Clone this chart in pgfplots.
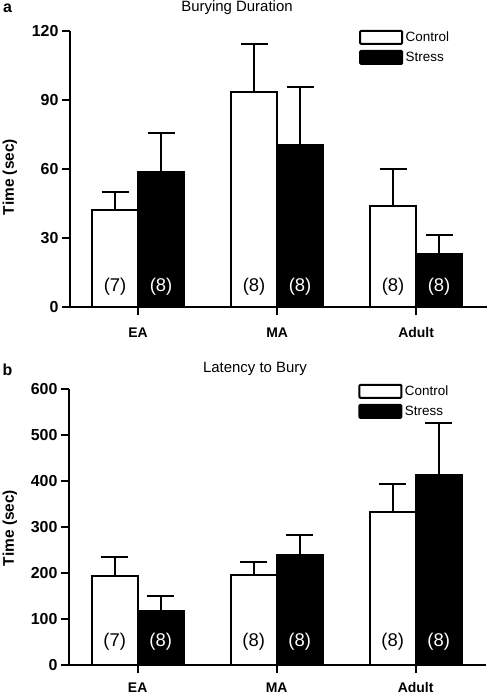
\documentclass[border=0pt]{standalone}
\usepackage{fontspec}
\setmainfont{Liberation Sans}
\usepackage{pgfplots}
\pgfplotsset{compat=1.18}

\pgfplotsset{
  prism/.style={
    scale only axis,
    ybar, bar width=46bp,
    axis x line*=bottom, axis y line*=left,
    axis line style={line width=2bp, black},
    tick style={line width=2bp, black},
    tick align=outside, major tick length=8bp,
    xtick={0,1,2}, xticklabels={EA,MA,Adult},
    /pgf/number format/assume math mode=true,
    yticklabel style={font=\fontsize{16}{16}\selectfont\bfseries},
    xticklabel style={font=\fontsize{14}{14}\selectfont\bfseries, anchor=base},
    ylabel={Time (sec)},
    ylabel style={font=\fontsize{15.5}{15.5}\selectfont\bfseries, anchor=center},
    legend style={draw=none, fill=none, anchor=north west, inner sep=0pt,
      font=\fontsize{13.5}{13.5}\selectfont, row sep=4bp,
      nodes={inner sep=2.5bp}},
    legend cell align=left,
  },
  barstyle/.style={
    bar width=46bp, draw=black, line width=2bp,
    error bars/y dir=plus, error bars/y explicit,
    error bars/error bar style={line width=2bp, black},
    error bars/error mark options={rotate=90, mark size=13.5bp, line width=2bp, black},
  },
  legbox/.style={legend image code/.code={\draw[line width=2bp, rounded corners=1bp, draw=black, ##1] (0bp,-6.5bp) rectangle (42bp,6.5bp);}},
}
\tikzset{nlab/.style={font=\fontsize{18.5}{18.5}\selectfont}}

\begin{document}
\begin{tikzpicture}
\useasboundingbox (0bp,0bp) rectangle (488bp,694bp);

% Panel a
\begin{axis}[prism,
  at={(70bp,386.7bp)}, anchor=south west,
  width=417bp, height=276.6bp,
  xmin=-0.49, xmax=2.51, ymin=0, ymax=120,
  ytick={0,30,60,90,120},
  xticklabel style={yshift=-22bp},
  ylabel style={at={(axis description cs:-0.144,0.471)}},
  legend style={at={(axis description cs:0.693,1.006)}},
]
\addplot[barstyle, fill=white, bar shift=-23bp, legbox] coordinates {
  (0,42.2) +- (0,7.8)
  (1,93.5) +- (0,20.6)
  (2,43.8) +- (0,16.1)
};
\addlegendentry{Control}
\addplot[barstyle, fill=black, bar shift=23bp, legbox] coordinates {
  (0,58.8) +- (0,17.0)
  (1,70.5) +- (0,25.2)
  (2,23.1) +- (0,8.1)
};
\addlegendentry{Stress}
\node[nlab] at (axis cs:0,9) [xshift=-23bp] {(7)};
\node[nlab, white] at (axis cs:0,9) [xshift=23bp] {(8)};
\node[nlab] at (axis cs:1,9) [xshift=-23bp] {(8)};
\node[nlab, white] at (axis cs:1,9) [xshift=23bp] {(8)};
\node[nlab] at (axis cs:2,9) [xshift=-23bp] {(8)};
\node[nlab, white] at (axis cs:2,9) [xshift=23bp] {(8)};
\end{axis}

% Panel b
\begin{axis}[prism,
  at={(69bp,29bp)}, anchor=south west,
  width=416.7bp, height=275.7bp,
  xmin=-0.494, xmax=2.504, ymin=0, ymax=600,
  ytick={0,100,200,300,400,500,600},
  xticklabel style={yshift=-19bp},
  ylabel style={at={(axis description cs:-0.142,0.497)}},
  legend style={at={(axis description cs:0.694,1.023)}},
]
\addplot[barstyle, fill=white, bar shift=-23bp, legbox] coordinates {
  (0,194.5) +- (0,39.9)
  (1,195.2) +- (0,29.8)
  (2,333.8) +- (0,60.3)
};
\addlegendentry{Control}
\addplot[barstyle, fill=black, bar shift=23bp, legbox] coordinates {
  (0,117.6) +- (0,32.6)
  (1,239.5) +- (0,44.2)
  (2,412.9) +- (0,114.7)
};
\addlegendentry{Stress}
\node[nlab] at (axis cs:0,51) [xshift=-23bp] {(7)};
\node[nlab, white] at (axis cs:0,51) [xshift=23bp] {(8)};
\node[nlab] at (axis cs:1,51) [xshift=-23bp] {(8)};
\node[nlab, white] at (axis cs:1,51) [xshift=23bp] {(8)};
\node[nlab] at (axis cs:2,51) [xshift=-23bp] {(8)};
\node[nlab, white] at (axis cs:2,51) [xshift=23bp] {(8)};
\end{axis}

\node[font=\fontsize{15}{15}\selectfont] at (237bp,686bp) {Burying Duration};
\node[font=\fontsize{15}{15}\selectfont] at (255bp,325bp) {Latency to Bury};
\node[font=\fontsize{16}{16}\selectfont\bfseries] at (7.5bp,686bp) {a};
\node[font=\fontsize{16}{16}\selectfont\bfseries] at (7.5bp,324bp) {b};
\end{tikzpicture}
\end{document}
